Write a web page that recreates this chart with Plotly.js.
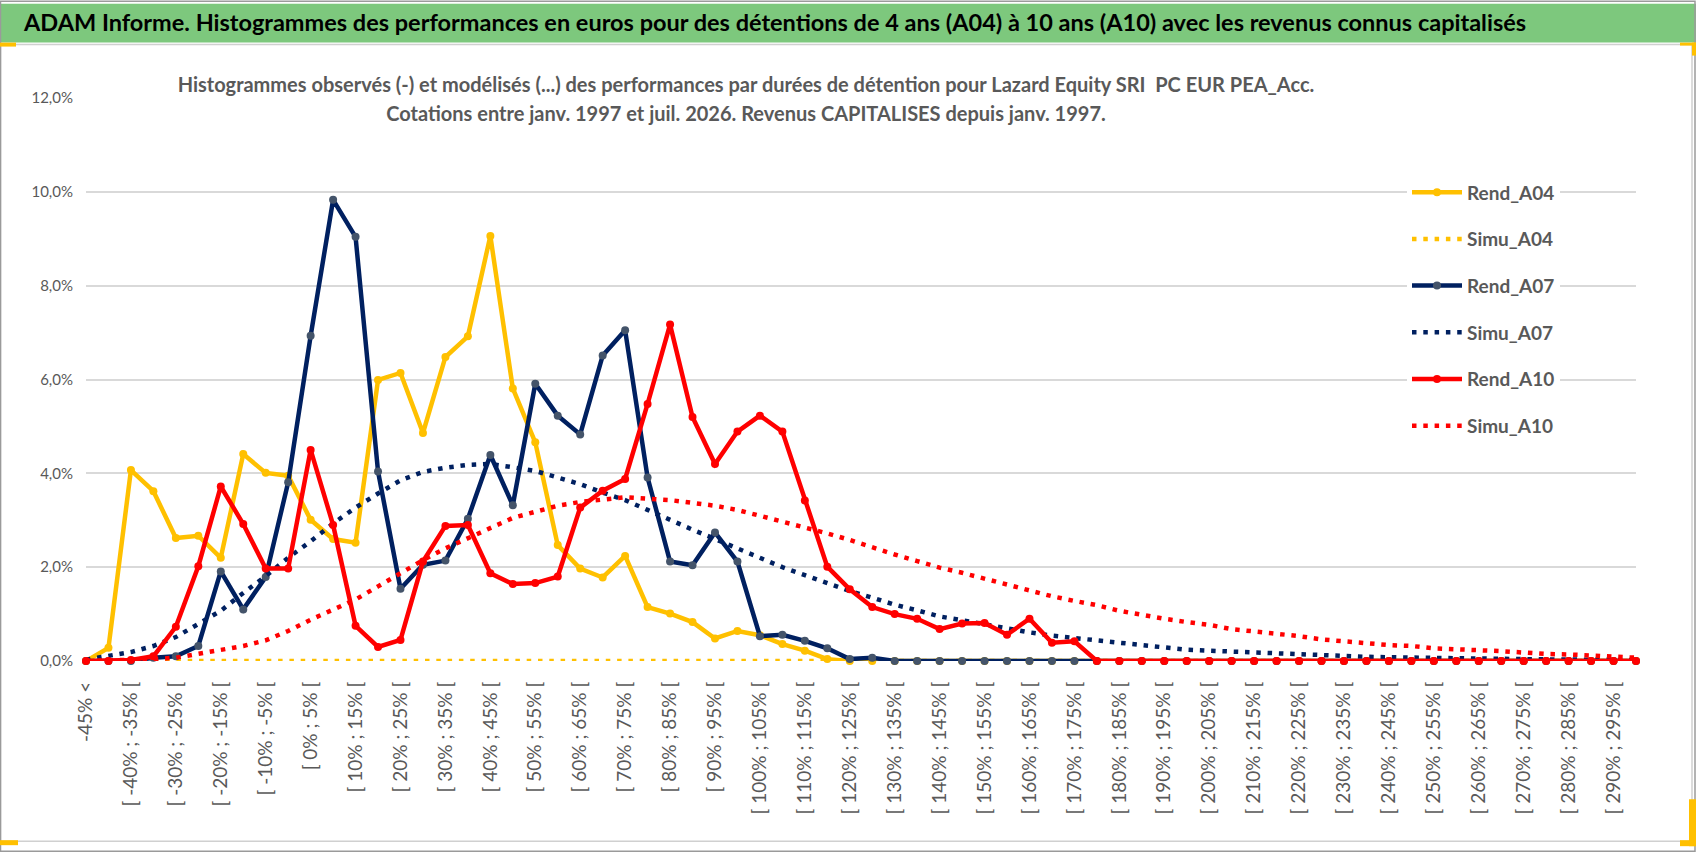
<!DOCTYPE html>
<html lang="fr">
<head>
<meta charset="utf-8">
<title>ADAM Informe – histogrammes A04 à A10</title>
<script src="https://cdn.plot.ly/plotly-3.0.1.min.js"></script>
<style>
  html, body { margin: 0; padding: 0; background: #fff; }
  #chart { width: 1698px; height: 854px; }
</style>
</head>
<body>
<div id="chart"></div>
<script>
// Histogrammes des performances par durée de détention (4, 7, 10 ans).
// Valeurs, en % de fréquence par classe de 5 %.

const CATEGORIES = [
  '-45% <',
  '[ -45% ; -40% [', '[ -40% ; -35% [', '[ -35% ; -30% [', '[ -30% ; -25% [', '[ -25% ; -20% [',
  '[ -20% ; -15% [', '[ -15% ; -10% [', '[ -10% ; -5% [', '[ -5% ; 0% [', '[ 0% ; 5% [',
  '[ 5% ; 10% [', '[ 10% ; 15% [', '[ 15% ; 20% [', '[ 20% ; 25% [', '[ 25% ; 30% [',
  '[ 30% ; 35% [', '[ 35% ; 40% [', '[ 40% ; 45% [', '[ 45% ; 50% [', '[ 50% ; 55% [',
  '[ 55% ; 60% [', '[ 60% ; 65% [', '[ 65% ; 70% [', '[ 70% ; 75% [', '[ 75% ; 80% [',
  '[ 80% ; 85% [', '[ 85% ; 90% [', '[ 90% ; 95% [', '[ 95% ; 100% [', '[ 100% ; 105% [',
  '[ 105% ; 110% [', '[ 110% ; 115% [', '[ 115% ; 120% [', '[ 120% ; 125% [', '[ 125% ; 130% [',
  '[ 130% ; 135% [', '[ 135% ; 140% [', '[ 140% ; 145% [', '[ 145% ; 150% [', '[ 150% ; 155% [',
  '[ 155% ; 160% [', '[ 160% ; 165% [', '[ 165% ; 170% [', '[ 170% ; 175% [', '[ 175% ; 180% [',
  '[ 180% ; 185% [', '[ 185% ; 190% [', '[ 190% ; 195% [', '[ 195% ; 200% [', '[ 200% ; 205% [',
  '[ 205% ; 210% [', '[ 210% ; 215% [', '[ 215% ; 220% [', '[ 220% ; 225% [', '[ 225% ; 230% [',
  '[ 230% ; 235% [', '[ 235% ; 240% [', '[ 240% ; 245% [', '[ 245% ; 250% [', '[ 250% ; 255% [',
  '[ 255% ; 260% [', '[ 260% ; 265% [', '[ 265% ; 270% [', '[ 270% ; 275% [', '[ 275% ; 280% [',
  '[ 280% ; 285% [', '[ 285% ; 290% [', '[ 290% ; 295% [', '[ 295% ; 300% ['
];

const REND_A04 = [
  0, 0.28, 4.07, 3.62, 2.62, 2.67, 2.2, 4.41, 4.01, 3.95,
  3.01, 2.6, 2.52, 5.99, 6.14, 4.86, 6.48, 6.92, 9.06, 5.81,
  4.66, 2.47, 1.97, 1.78, 2.24, 1.15, 1.01, 0.83, 0.48, 0.64,
  0.55, 0.36, 0.22, 0.04, 0, 0, 0, 0, 0, 0,
  0, 0, 0, 0, 0, 0, 0, 0, 0, 0,
  0, 0, 0, 0, 0, 0, 0, 0, 0, 0,
  0, 0, 0, 0, 0, 0, 0, 0, 0, 0
];

const SIMU_A04 = [
  0, 0, 0, 0, 0, 0, 0, 0, 0, 0,
  0, 0, 0, 0, 0, 0, 0, 0, 0, 0,
  0, 0, 0, 0, 0, 0, 0, 0, 0, 0,
  0, 0, 0, 0, 0, 0, 0, 0, 0, 0,
  0, 0, 0, 0, 0, 0, 0, 0, 0, 0,
  0, 0, 0, 0, 0, 0, 0, 0, 0, 0,
  0, 0, 0, 0, 0, 0, 0, 0, 0, 0
];

const REND_A07 = [
  0, 0, 0, 0.07, 0.1, 0.32, 1.91, 1.1, 1.79, 3.81,
  6.93, 9.83, 9.04, 4.04, 1.54, 2.05, 2.14, 3.03, 4.39, 3.32,
  5.91, 5.23, 4.83, 6.51, 7.05, 3.91, 2.12, 2.04, 2.74, 2.12,
  0.53, 0.56, 0.43, 0.27, 0.04, 0.07, 0, 0, 0, 0,
  0, 0, 0, 0, 0, 0, 0, 0, 0, 0,
  0, 0, 0, 0, 0, 0, 0, 0, 0, 0,
  0, 0, 0, 0, 0, 0, 0, 0, 0, 0
];

const SIMU_A07 = [
  0.03, 0.12, 0.19, 0.32, 0.51, 0.79, 1.07, 1.45, 1.81, 2.2,
  2.55, 2.93, 3.27, 3.57, 3.85, 4.03, 4.12, 4.18, 4.2, 4.13,
  4.05, 3.91, 3.77, 3.59, 3.43, 3.22, 3.0, 2.8, 2.6, 2.4,
  2.19, 2.0, 1.83, 1.66, 1.49, 1.35, 1.2, 1.08, 0.95, 0.87,
  0.78, 0.69, 0.61, 0.54, 0.49, 0.42, 0.37, 0.32, 0.27, 0.24,
  0.22, 0.2, 0.17, 0.15, 0.13, 0.12, 0.1, 0.09, 0.08, 0.07,
  0.06, 0.055, 0.05, 0.045, 0.04, 0.035, 0.03, 0.025, 0.02, 0.02
];

const REND_A10 = [
  0, 0, 0.02, 0.1, 0.73, 2.02, 3.72, 2.92, 1.97, 1.97,
  4.5, 2.9, 0.75, 0.3, 0.45, 2.12, 2.88, 2.9, 1.87, 1.64,
  1.66, 1.8, 3.27, 3.63, 3.88, 5.48, 7.17, 5.2, 4.2, 4.89,
  5.23, 4.89, 3.42, 2.01, 1.53, 1.15, 1.0, 0.9, 0.68, 0.8,
  0.81, 0.56, 0.9, 0.39, 0.42, 0, 0, 0, 0, 0,
  0, 0, 0, 0, 0, 0, 0, 0, 0, 0,
  0, 0, 0, 0, 0, 0, 0, 0, 0, 0
];

const SIMU_A10 = [
  0, 0.01, 0.02, 0.04, 0.07, 0.15, 0.23, 0.32, 0.44, 0.64,
  0.88, 1.1, 1.31, 1.59, 1.88, 2.15, 2.4, 2.62, 2.85, 3.05,
  3.18, 3.31, 3.39, 3.45, 3.49, 3.46, 3.43, 3.37, 3.31, 3.22,
  3.1, 2.97, 2.85, 2.72, 2.58, 2.42, 2.27, 2.13, 1.99, 1.88,
  1.75, 1.62, 1.51, 1.38, 1.28, 1.19, 1.07, 0.98, 0.9, 0.83,
  0.77, 0.68, 0.63, 0.59, 0.53, 0.46, 0.41, 0.38, 0.34, 0.32,
  0.27, 0.24, 0.23, 0.21, 0.17, 0.15, 0.14, 0.12, 0.1, 0.07
];

const Y_TICKS = [0, 2, 4, 6, 8, 10, 12];
const Y_LABELS = ['0,0%', '2,0%', '4,0%', '6,0%', '8,0%', '10,0%', '12,0%'];

const TITLE = 'ADAM Informe. Histogrammes des performances en euros pour des détentions de 4 ans (A04) à 10 ans (A10) avec les revenus connus capitalisés';
const SUBTITLE_1 = 'Histogrammes observés (-) et modélisés (...) des performances par durées de détention pour Lazard Equity SRI  PC EUR PEA_Acc.';
const SUBTITLE_2 = 'Cotations entre janv. 1997 et juil. 2026. Revenus CAPITALISES depuis janv. 1997.';

// ── style ──
const FONT = 'Lato, "Open Sans", sans-serif';
const GRAY = '#595959';
const GRID = '#d9d9d9';
const YELLOW = '#ffc000';
const NAVY = '#002060';
const RED = '#ff0000';

// zone de tracé en pixels (mesurée sur la référence) + conversion px → paper
const W = 1698, H = 854;
const PLOT = { l: 86, r: 1636, t: 97.5, b: 661.5 };
const px = (x) => (x - PLOT.l) / (PLOT.r - PLOT.l);
const py = (y) => (PLOT.b - y) / (PLOT.b - PLOT.t);

const labelTicks = CATEGORIES.filter((_, i) => i % 2 === 0);   // une étiquette sur deux
const gridTicks = CATEGORIES.map((_, i) => i).filter((i) => i % 4 === 0);

function rend(name, y, color, markerColor) {
  return {
    type: 'scatter', mode: 'lines+markers', name, legendgroup: name,
    x: CATEGORIES, y, xaxis: 'x2', yaxis: 'y', cliponaxis: false,
    line: { color, width: 4.5 },
    marker: { color: markerColor || color, size: 8 },
  };
}
function simu(name, y, color) {
  return {
    type: 'scatter', mode: 'lines', name, legendgroup: name,
    x: CATEGORIES, y, xaxis: 'x2', yaxis: 'y', cliponaxis: false,
    line: { color, width: 4.5, dash: '4.5px,6.8px' },
  };
}

const traces = [
  rend('Rend_A04', REND_A04, YELLOW),
  simu('Simu_A04', SIMU_A04, YELLOW),
  rend('Rend_A07', REND_A07, NAVY, '#44546a'),
  simu('Simu_A07', SIMU_A07, NAVY),
  rend('Rend_A10', REND_A10, RED),
  simu('Simu_A10', SIMU_A10, RED),
];

const rect = (x0, y0, x1, y1, fill, line) => ({
  type: 'rect', xref: 'paper', yref: 'paper', layer: 'above',
  x0: px(x0), x1: px(x1), y0: py(y1), y1: py(y0),
  fillcolor: fill || 'rgba(0,0,0,0)',
  line: line || { width: 0 },
});

const shapes = [
  rect(0, 3, W - 2, 42, '#7dc87d'),                                  // bandeau vert
  rect(0.5, 44, 1692, 842, null, { color: '#d0d0d0', width: 1.5 }),  // cadre du graphique
  rect(0.5, 0.5, 1695, 852, null, { color: '#9a9a9a', width: 1.5 }), // bord extérieur
  // poignées jaunes de sélection
  rect(0, 841, 18, 846, YELLOW),
  rect(0, 42, 16, 46, YELLOW),
  rect(1680, 42, 1696, 45, YELLOW),
  rect(1692, 42, 1696, 55, YELLOW),
  rect(1680, 841, 1696, 847, YELLOW),
  rect(1689, 800, 1696, 847, YELLOW),
];

const subBox = (text, yc) => ({
  text, xref: 'paper', yref: 'paper', x: px(746), y: py(yc),
  xanchor: 'center', yanchor: 'middle', showarrow: false,
  width: 1170, height: 29, bgcolor: '#fff', borderpad: 0,
  font: { family: FONT, size: 20, color: GRAY, weight: 700 },
});

const layout = {
  width: W, height: H,
  margin: { l: PLOT.l, r: W - PLOT.r, t: PLOT.t, b: H - PLOT.b, autoexpand: false },
  paper_bgcolor: '#fff', plot_bgcolor: '#fff',
  separators: ', ',
  font: { family: FONT, color: GRAY },
  title: {
    text: TITLE, xref: 'container', yref: 'container',
    x: 24 / W, xanchor: 'left', y: 1 - 22.5 / H, yanchor: 'middle',
    font: { family: FONT, size: 23.5, color: '#000', weight: 700 },
  },
  xaxis: {
    type: 'linear', range: [0, CATEGORIES.length - 1],
    tickmode: 'array', tickvals: gridTicks, showticklabels: false,
    showgrid: true, gridcolor: GRID, gridwidth: 1.5,
    ticks: 'outside', ticklen: 7, tickcolor: GRID, tickwidth: 1.5,
    showline: true, linecolor: GRID, linewidth: 1.5, zeroline: false,
  },
  xaxis2: {
    type: 'category', overlaying: 'x', anchor: 'y', side: 'bottom',
    range: [0, CATEGORIES.length - 1],
    tickmode: 'array', tickvals: labelTicks, ticktext: labelTicks,
    tickangle: -90, ticks: '', ticklabelstandoff: 16,
    tickfont: { family: FONT, size: 19, color: GRAY },
    showgrid: false, showline: false, zeroline: false,
  },
  yaxis: {
    range: [0, 12], tickmode: 'array', tickvals: Y_TICKS, ticktext: Y_LABELS,
    showgrid: true, gridcolor: GRID, gridwidth: 1.5,
    zeroline: false, showline: false, ticks: '', ticklabelstandoff: 12,
    tickfont: { family: FONT, size: 15, color: GRAY },
  },
  legend: {
    x: px(1407), y: py(173), xanchor: 'left', yanchor: 'top',
    bgcolor: '#fff', borderwidth: 0,
    traceorder: 'grouped', tracegroupgap: 19, itemwidth: 50,
    font: { family: FONT, size: 19, color: GRAY, weight: 700 },
  },
  showlegend: true,
  hovermode: false,
  shapes,
  annotations: [subBox(SUBTITLE_1, 83), subBox(SUBTITLE_2, 112)],
};

Plotly.newPlot('chart', traces, layout, { displayModeBar: false, responsive: false });
</script>
</body>
</html>
